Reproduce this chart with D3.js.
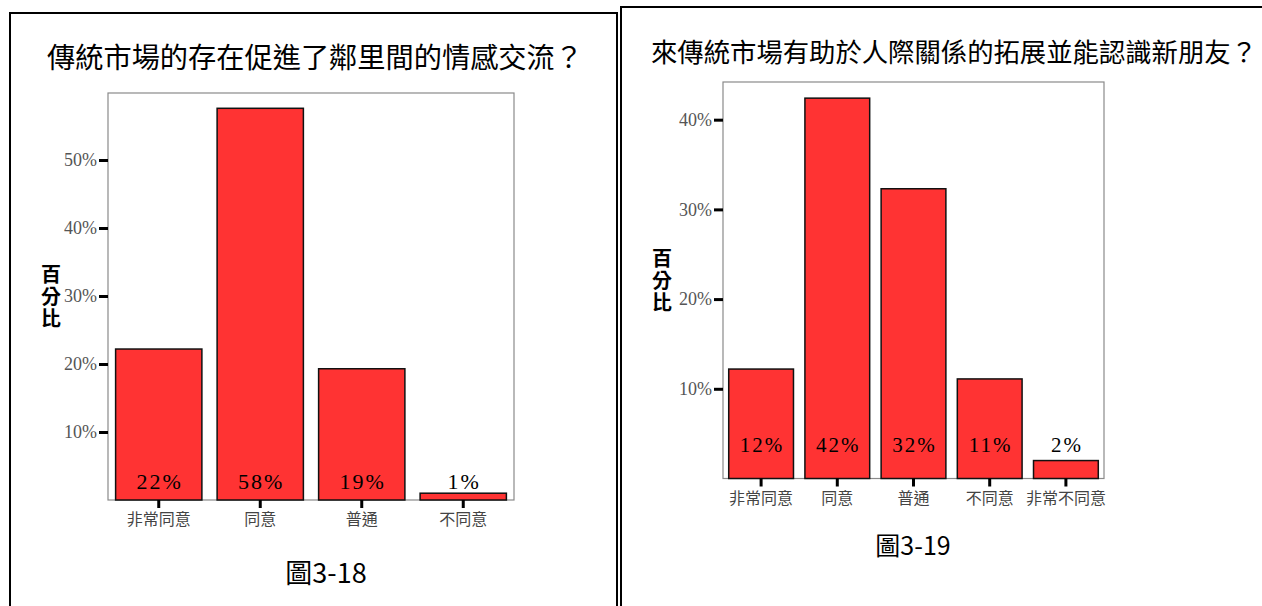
<!DOCTYPE html>
<html>
<head>
<meta charset="utf-8">
<script src="https://cdn.jsdelivr.net/npm/d3@7"></script>
<style>
  body { margin: 0; background: #fff; }
  svg { display: block; }
</style>
</head>
<body>
<svg width="1262" height="606"></svg>
<script>
// chart 3-18
const leftTitle = '傳統市場的存在促進了鄰里間的情感交流？';
const leftCategories = ['非常同意', '同意', '普通', '不同意'];
const leftValues = [22.2, 57.6, 19.3, 1.0];
const leftTicks = [10, 20, 30, 40, 50];
const leftCaption = '圖3-18';

// chart 3-19
const rightTitle = '來傳統市場有助於人際關係的拓展並能認識新朋友？';
const rightCategories = ['非常同意', '同意', '普通', '不同意', '非常不同意'];
const rightValues = [12.2, 42.4, 32.3, 11.1, 2.0];
const rightTicks = [10, 20, 30, 40];
const rightCaption = '圖3-19';

const yLabel = '百分比';

const svg = d3.select('svg');
const cjk = '"Noto Sans CJK TC", "Noto Sans CJK SC", sans-serif';
const serif = '"Liberation Serif", "DejaVu Serif", serif';

// panel frames
svg.append('rect')
  .attr('x', 10).attr('y', 13).attr('width', 607).attr('height', 620)
  .attr('fill', 'none').attr('stroke', '#000').attr('stroke-width', 2);
svg.append('rect')
  .attr('x', 621).attr('y', 7).attr('width', 660).attr('height', 620)
  .attr('fill', 'none').attr('stroke', '#000').attr('stroke-width', 2);

function drawPanel(opt) {
  const g = svg.append('g');

  g.append('text')
    .attr('x', opt.titleX).attr('y', opt.titleY)
    .attr('text-anchor', 'middle')
    .attr('font-family', cjk)
    .attr('font-size', opt.titleSize)
    .attr('textLength', opt.titleLen)
    .attr('lengthAdjust', 'spacingAndGlyphs')
    .attr('fill', '#000')
    .text(opt.title);

  const x = d3.scaleBand()
    .domain(opt.categories)
    .range([opt.left, opt.right])
    .paddingInner(0.15)
    .paddingOuter(0.075);

  const y = d3.scaleLinear()
    .domain([0, opt.yMax])
    .range([opt.bottom, opt.top]);

  // plot frame
  g.append('rect')
    .attr('x', opt.left).attr('y', opt.top)
    .attr('width', opt.right - opt.left).attr('height', opt.bottom - opt.top)
    .attr('fill', 'none').attr('stroke', '#8a8a8a').attr('stroke-width', 1.2);

  const data = opt.categories.map((c, i) => ({ cat: c, val: opt.values[i] }));

  g.append('g')
    .selectAll('rect')
    .data(data)
    .enter().append('rect')
    .attr('x', d => x(d.cat))
    .attr('y', d => y(d.val))
    .attr('width', x.bandwidth())
    .attr('height', d => y(0) - y(d.val))
    .attr('fill', '#ff3333')
    .attr('stroke', '#111')
    .attr('stroke-width', 1.5);

  g.append('g')
    .selectAll('text')
    .data(data)
    .enter().append('text')
    .attr('x', d => x(d.cat) + x.bandwidth() / 2 + 1)
    .attr('y', y(0) - opt.valueOffset)
    .attr('text-anchor', 'middle')
    .attr('font-family', serif)
    .attr('font-size', opt.valueSize)
    .attr('letter-spacing', 2)
    .attr('fill', '#000')
    .text(d => Math.round(d.val) + '%');

  // y axis
  const yAxis = g.append('g')
    .attr('transform', `translate(${opt.left},0)`)
    .call(d3.axisLeft(y).tickValues(opt.ticks).tickSize(9).tickPadding(2).tickFormat(d => d + '%'));
  yAxis.select('.domain').remove();
  yAxis.selectAll('line').attr('stroke', '#000').attr('stroke-width', 3);
  yAxis.selectAll('text')
    .attr('font-family', serif)
    .attr('font-size', 18)
    .attr('fill', '#555');

  // x axis
  const xAxis = g.append('g')
    .attr('transform', `translate(0,${opt.bottom})`)
    .call(d3.axisBottom(x).tickSize(8).tickPadding(6));
  xAxis.select('.domain').remove();
  xAxis.selectAll('line').attr('stroke', '#000').attr('stroke-width', 3);
  xAxis.selectAll('text')
    .attr('font-family', cjk)
    .attr('font-size', 16)
    .attr('fill', '#444');

  // vertical y label (upright characters)
  g.append('text')
    .attr('x', opt.yLabelX)
    .attr('y', opt.yLabelY)
    .style('writing-mode', 'vertical-rl')
    .style('text-orientation', 'upright')
    .attr('letter-spacing', 2)
    .attr('font-family', cjk)
    .attr('font-weight', 'bold')
    .attr('font-size', 20)
    .attr('fill', '#000')
    .text(yLabel);

  g.append('text')
    .attr('x', opt.capX).attr('y', opt.capY)
    .attr('text-anchor', 'middle')
    .attr('font-family', cjk)
    .attr('font-size', opt.capSize)
    .attr('fill', '#000')
    .text(opt.caption);
}

drawPanel({
  title: leftTitle, titleX: 315, titleY: 68, titleSize: 28, titleLen: 536,
  categories: leftCategories, values: leftValues, ticks: leftTicks,
  left: 108, right: 514, top: 93, bottom: 500, yMax: 59.85,
  valueOffset: 11, valueSize: 22,
  yLabelX: 51, yLabelY: 264,
  caption: leftCaption, capX: 326, capY: 583, capSize: 27
});

drawPanel({
  title: rightTitle, titleX: 954, titleY: 62, titleSize: 26, titleLen: 606,
  categories: rightCategories, values: rightValues, ticks: rightTicks,
  left: 723, right: 1104, top: 82, bottom: 478.5, yMax: 44.2,
  valueOffset: 27, valueSize: 21,
  yLabelX: 662, yLabelY: 248,
  caption: rightCaption, capX: 913, capY: 555, capSize: 25
});
</script>
</body>
</html>
